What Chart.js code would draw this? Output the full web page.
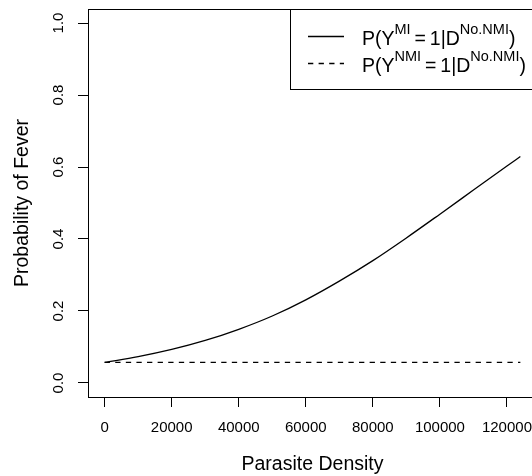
<!DOCTYPE html>
<html>
<head>
<meta charset="utf-8">
<script src="https://cdn.jsdelivr.net/npm/chart.js@4.4.1/dist/chart.umd.min.js"></script>
<style>
  html, body { margin: 0; padding: 0; background: #fff; overflow: hidden; }
  #wrap { width: 532px; height: 476px; overflow: hidden; }
</style>
</head>
<body>
<div id="wrap"><canvas id="chart" width="560" height="476"></canvas></div>
<script>
// ── Data ───────────────────────────────────────
const DENSITY = [0, 10000, 20000, 30000, 40000, 50000, 60000, 70000, 80000, 90000, 100000, 110000, 120000, 124000];
const P_MI    = [0.057, 0.073, 0.093, 0.118, 0.149, 0.186, 0.231, 0.283, 0.340, 0.403, 0.469, 0.536, 0.603, 0.629];
const P_NMI   = [0.057, 0.057, 0.057, 0.057, 0.057, 0.057, 0.057, 0.057, 0.057, 0.057, 0.057, 0.057, 0.057, 0.057];

const X_TICKS = [0, 20000, 40000, 60000, 80000, 100000, 120000];
const Y_TICKS = [0, 0.2, 0.4, 0.6, 0.8, 1.0];
const X_RANGE = [-4960, 128960];
const Y_RANGE = [-0.039, 1.039];

const X_TITLE = 'Parasite Density';
const Y_TITLE = 'Probability of Fever';

// legend text pieces: [text, isSuperscript]
const LEGEND_ROWS = [
  [['P(Y', 0], ['MI', 1], ['\u2009=\u20091|D', 0], ['No.NMI', 1], [')', 0]],
  [['P(Y', 0], ['NMI', 1], ['\u2009=\u20091|D', 0], ['No.NMI', 1], [')', 0]],
];

const FONT = 'Liberation Sans, Arial, sans-serif';

const toPoints = (ys) => DENSITY.map((x, i) => ({ x, y: ys[i] }));

// ── Plot frame (R box()) ───────────────────────
const boxPlugin = {
  id: 'box',
  afterDraw(chart) {
    const { ctx, chartArea: a } = chart;
    ctx.save();
    ctx.strokeStyle = '#000';
    ctx.lineWidth = 1;
    ctx.strokeRect(Math.round(a.left) + 0.5, Math.round(a.top) + 0.5,
      Math.round(a.right - a.left) - 1, Math.round(a.bottom - a.top));
    ctx.restore();
  },
};

// ── Legend with superscripts ───────────────────
const legendPlugin = {
  id: 'rLegend',
  afterDraw(chart) {
    const { ctx, chartArea: a } = chart;
    const left = 290, top = Math.round(a.top), bottom = 89;
    ctx.save();
    ctx.fillStyle = '#fff';
    ctx.fillRect(left, top, a.right - left, bottom - top);
    ctx.strokeStyle = '#000';
    ctx.lineWidth = 1;
    ctx.strokeRect(left + 0.5, top + 0.5, a.right - left - 1, bottom - top);

    const baselines = [45, 72];
    chart.data.datasets.forEach((ds, i) => {
      const ly = baselines[i] - 8.5;
      ctx.beginPath();
      ctx.setLineDash(ds.borderDash || []);
      ctx.lineWidth = ds.borderWidth;
      ctx.moveTo(308, ly);
      ctx.lineTo(344, ly);
      ctx.stroke();
      ctx.setLineDash([]);

      let x = 362;
      ctx.fillStyle = '#000';
      ctx.textBaseline = 'alphabetic';
      ctx.textAlign = 'left';
      LEGEND_ROWS[i].forEach(([txt, sup]) => {
        ctx.font = (sup ? '14.5px ' : '19.5px ') + FONT;
        ctx.fillText(txt, x, baselines[i] - (sup ? 11 : 0));
        x += ctx.measureText(txt).width;
      });
    });
    ctx.restore();
  },
};

new Chart(document.getElementById('chart'), {
  type: 'line',
  data: {
    datasets: [
      {
        label: 'P(Y^MI = 1|D^No.NMI)',
        data: toPoints(P_MI),
        borderColor: '#000',
        borderWidth: 1.3,
        pointRadius: 0,
        cubicInterpolationMode: 'monotone',
        fill: false,
      },
      {
        label: 'P(Y^NMI = 1|D^No.NMI)',
        data: toPoints(P_NMI),
        borderColor: '#000',
        borderWidth: 1.3,
        borderDash: [5.3, 5.3],
        pointRadius: 0,
        fill: false,
      },
    ],
  },
  options: {
    responsive: false,
    animation: false,
    events: [],
    layout: { autoPadding: false, padding: { left: 0, top: 9, right: 23, bottom: 0 } },
    plugins: { legend: { display: false }, tooltip: { enabled: false } },
    scales: {
      x: {
        type: 'linear',
        min: X_RANGE[0],
        max: X_RANGE[1],
        afterBuildTicks: (s) => { s.ticks = X_TICKS.map((v) => ({ value: v })); },
        afterFit: (s) => { s.height = 79; s.paddingLeft = 0; s.paddingRight = 0; },
        grid: { display: true, drawOnChartArea: false, drawTicks: true, tickLength: 10, tickColor: '#000', tickWidth: 1 },
        border: { display: false },
        ticks: {
          color: '#000', padding: 12, maxRotation: 0, autoSkip: false,
          font: { family: FONT, size: 15 },
          callback: (v) => String(v),
        },
        title: { display: true, text: X_TITLE, color: '#000', padding: { top: 0, bottom: 0 }, font: { family: FONT, size: 19.5 } },
      },
      y: {
        type: 'linear',
        min: Y_RANGE[0],
        max: Y_RANGE[1],
        afterBuildTicks: (s) => { s.ticks = Y_TICKS.map((v) => ({ value: v })); },
        afterFit: (s) => { s.width = 88; s.paddingTop = 0; s.paddingBottom = 0; },
        grid: { display: true, drawOnChartArea: false, drawTicks: true, tickLength: 10, tickColor: '#000', tickWidth: 1 },
        border: { display: false },
        ticks: {
          color: '#000', padding: 8.6, minRotation: 90, maxRotation: 90, autoSkip: false, crossAlign: 'center',
          font: { family: FONT, size: 15 },
          callback: (v) => v.toFixed(1),
        },
        title: { display: true, text: Y_TITLE, color: '#000', padding: { top: 11, bottom: 0 }, font: { family: FONT, size: 19.5 } },
      },
    },
  },
  plugins: [boxPlugin, legendPlugin],
});
</script>
</body>
</html>
